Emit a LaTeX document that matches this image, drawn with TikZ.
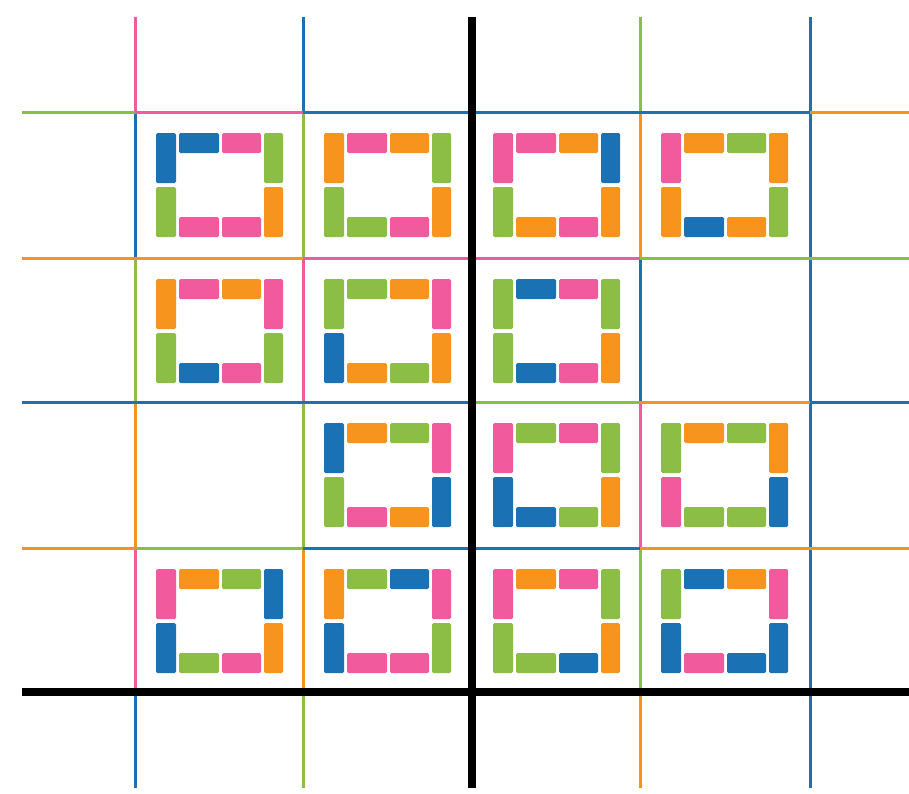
\documentclass[tikz,border=0pt]{standalone}
\definecolor{pk}{HTML}{F25A9E}
\definecolor{bl}{HTML}{1A72B5}
\definecolor{gr}{HTML}{8CBE45}
\definecolor{og}{HTML}{F7941D}
\tikzset{
  bar/.style={rounded corners=1.5pt},
  gl/.style={line width=3pt},
  bk/.style={line width=8pt, black}
}
\newcommand\sqframe[9]{%
  \begin{scope}[shift={(#1)}]
    \fill[#2,bar] (21,21) rectangle (41,71);
    \fill[#3,bar] (21,75) rectangle (41,125);
    \fill[#4,bar] (44,21) rectangle (84,41);
    \fill[#5,bar] (87,21) rectangle (126,41);
    \fill[#6,bar] (129,21) rectangle (148,71);
    \fill[#7,bar] (129,75) rectangle (148,125);
    \fill[#8,bar] (44,105) rectangle (84,125);
    \fill[#9,bar] (87,105) rectangle (126,125);
  \end{scope}}
\begin{document}
\begin{tikzpicture}[x=1pt,y=-1pt]
\fill[white] (0,0) rectangle (909,793);
\useasboundingbox (0,0) rectangle (909,793);
% vertical coloured lines
\foreach \a/\b/\c in {17/112/pk,112/258/bl,258/402/gr,402/548/og,548/692/pk,692/788/bl}
  \draw[gl,\c] (135,\a) -- (135,\b);
\foreach \a/\b/\c in {17/112/bl,112/258/gr,258/402/pk,402/548/gr,548/692/og,692/788/gr}
  \draw[gl,\c] (303,\a) -- (303,\b);
\foreach \a/\b/\c in {17/112/gr,112/258/og,258/402/bl,402/548/pk,548/692/gr,692/788/og}
  \draw[gl,\c] (640,\a) -- (640,\b);
\draw[gl,bl] (810,17) -- (810,788);
% horizontal coloured lines
\foreach \a/\b/\c in {22/135/gr,135/303/pk,303/472/bl,472/640/bl,640/810/bl,810/909/og}
  \draw[gl,\c] (\a,112) -- (\b,112);
\foreach \a/\b/\c in {22/135/og,135/303/og,303/472/pk,472/640/pk,640/810/gr,810/909/gr}
  \draw[gl,\c] (\a,258) -- (\b,258);
\foreach \a/\b/\c in {22/135/bl,135/303/bl,303/472/bl,472/640/gr,640/810/og,810/909/bl}
  \draw[gl,\c] (\a,402) -- (\b,402);
\foreach \a/\b/\c in {22/135/og,135/303/gr,303/472/bl,472/640/bl,640/810/og,810/909/og}
  \draw[gl,\c] (\a,548) -- (\b,548);
% black axes
\draw[bk] (472,17) -- (472,788);
\draw[bk] (22,692) -- (909,692);
% row 1
\sqframe{135,112}{bl}{gr}{bl}{pk}{gr}{og}{pk}{pk}
\sqframe{303,112}{og}{gr}{pk}{og}{gr}{og}{gr}{pk}
\sqframe{472,112}{pk}{gr}{pk}{og}{bl}{og}{og}{pk}
\sqframe{640,112}{pk}{og}{og}{gr}{og}{gr}{bl}{og}
% row 2
\sqframe{135,258}{og}{gr}{pk}{og}{pk}{gr}{bl}{pk}
\sqframe{303,258}{gr}{bl}{gr}{og}{pk}{og}{og}{gr}
\sqframe{472,258}{gr}{gr}{bl}{pk}{gr}{og}{bl}{pk}
% row 3
\sqframe{303,402}{bl}{gr}{og}{gr}{pk}{bl}{pk}{og}
\sqframe{472,402}{pk}{bl}{gr}{pk}{gr}{og}{bl}{gr}
\sqframe{640,402}{gr}{pk}{og}{gr}{og}{bl}{gr}{gr}
% row 4
\sqframe{135,548}{pk}{bl}{og}{gr}{bl}{og}{gr}{pk}
\sqframe{303,548}{og}{bl}{gr}{bl}{pk}{gr}{pk}{pk}
\sqframe{472,548}{pk}{gr}{og}{pk}{gr}{og}{gr}{bl}
\sqframe{640,548}{gr}{bl}{bl}{og}{pk}{bl}{pk}{bl}
\end{tikzpicture}
\end{document}
